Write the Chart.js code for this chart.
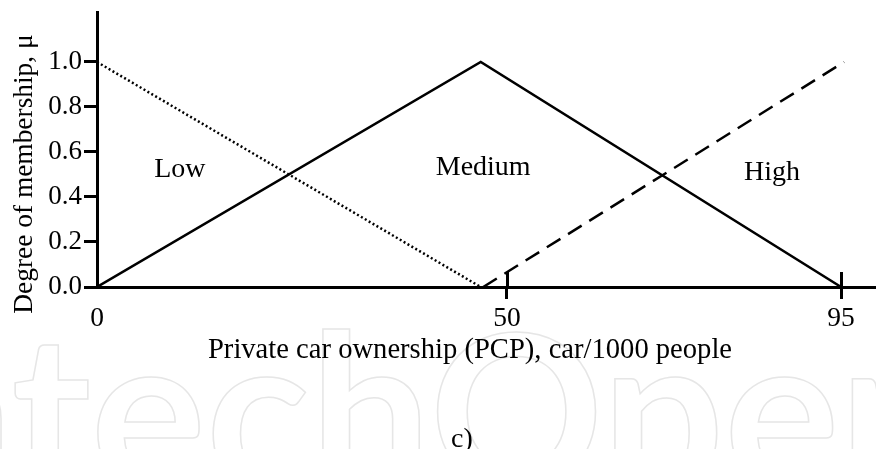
<!DOCTYPE html>
<html>
<head>
<meta charset="utf-8">
<script src="https://cdn.jsdelivr.net/npm/chart.js@4.4.1/dist/chart.umd.min.js"></script>
<style>
	html, body { margin: 0; padding: 0; background: #fff; }
	canvas { display: block; }
</style>
</head>
<body>
<canvas id="chart" width="876" height="449"></canvas>
<script>
// membership functions, x = private car ownership, y = degree of membership
const lowX = [0, 46.8];
const lowY = [1, 0];
const mediumX = [0, 46.8, 95];
const mediumY = [0, 1, 0];
const highX = [47.1, 95.4];
const highY = [0, 1];

const xTicks = [0, 50, 95];
const yTicks = [0, 0.2, 0.4, 0.6, 0.8, 1.0];

const regionNames = ["Low", "Medium", "High"];
const regionX = [10.1, 47.1, 85.7];
const regionY = [0.52, 0.53, 0.51];

const xTitle = "Private car ownership (PCP), car/1000 people";
const yTitle = "Degree of membership, μ";
const caption = "c)";

const serif = "'Liberation Serif', 'Times New Roman', serif";

// the original drawing is not to scale: 0..50 is wider than 50..95
const scaleKnots = [0, 50, 99.7];
const scaleFractions = [0, 0.5263, 1];

class PiecewiseScale extends Chart.LinearScale {
	getPixelForValue(value) {
		let i = 1;
		while (i < scaleKnots.length - 1 && value > scaleKnots[i]) {
			i++;
		}
		const t = (value - scaleKnots[i - 1]) / (scaleKnots[i] - scaleKnots[i - 1]);
		const frac = scaleFractions[i - 1] + t * (scaleFractions[i] - scaleFractions[i - 1]);
		return this.getPixelForDecimal(frac);
	}
	getValueForPixel(pixel) {
		const frac = this.getDecimalForPixel(pixel);
		let i = 1;
		while (i < scaleFractions.length - 1 && frac > scaleFractions[i]) {
			i++;
		}
		const t = (frac - scaleFractions[i - 1]) / (scaleFractions[i] - scaleFractions[i - 1]);
		return scaleKnots[i - 1] + t * (scaleKnots[i] - scaleKnots[i - 1]);
	}
}
PiecewiseScale.id = "piecewise";
PiecewiseScale.defaults = Chart.LinearScale.defaults;
Chart.register(PiecewiseScale);

function toPoints(xs, ys) {
	return xs.map((x, i) => ({ x: x, y: ys[i] }));
}

const watermark = {
	id: "watermark",
	beforeDraw(chart) {
		const ctx = chart.ctx;
		ctx.save();
		ctx.font = "bold 100px Lato, 'Open Sans', sans-serif";
		const size = 420 / ctx.measureText("tech").width * 100;
		ctx.font = "bold " + size + "px Lato, 'Open Sans', sans-serif";
		const xHeight = ctx.measureText("x").actualBoundingBoxAscent;
		const startX = 13 - ctx.measureText("In").width;
		ctx.strokeStyle = "#e6e6e6";
		ctx.lineWidth = 1.5;
		ctx.textBaseline = "alphabetic";
		ctx.strokeText("IntechOpen", startX, 378 + xHeight);
		ctx.restore();
	}
};

const decorations = {
	id: "decorations",
	afterDatasetsDraw(chart) {
		const ctx = chart.ctx;
		const xs = chart.scales.x;
		const ys = chart.scales.y;
		ctx.save();
		// tick marks rising above the x axis
		ctx.strokeStyle = "#000";
		ctx.lineWidth = 3;
		const base = ys.getPixelForValue(0);
		xTicks.filter(v => v !== 0).forEach(v => {
			const px = Math.round(xs.getPixelForValue(v)) + 0.5;
			ctx.beginPath();
			ctx.moveTo(px, base);
			ctx.lineTo(px, base - 15);
			ctx.stroke();
		});
		ctx.fillStyle = "#000";
		ctx.font = "28px " + serif;
		ctx.textAlign = "center";
		ctx.textBaseline = "middle";
		regionNames.forEach((name, i) => {
			ctx.fillText(name, xs.getPixelForValue(regionX[i]), ys.getPixelForValue(regionY[i]));
		});
		// axis titles and caption
		ctx.textBaseline = "alphabetic";
		ctx.font = "28.6px " + serif;
		ctx.fillText(xTitle, 470, 358);
		ctx.font = "28px " + serif;
		ctx.fillText(caption, 462, 447);
		ctx.translate(32, 174);
		ctx.rotate(-Math.PI / 2);
		ctx.font = "27.4px " + serif;
		ctx.fillText(yTitle, 0, 0);
		ctx.restore();
	}
};

const context = document.getElementById("chart").getContext("2d");
const chart = new Chart(context, {
	type: "scatter",
	data: {
		datasets: [
			{
				label: "Low",
				data: toPoints(lowX, lowY),
				showLine: true,
				borderColor: "#000",
				borderWidth: 2.5,
				borderDash: [2, 2.5],
				pointRadius: 0
			},
			{
				label: "Medium",
				data: toPoints(mediumX, mediumY),
				showLine: true,
				borderColor: "#000",
				borderWidth: 2.5,
				pointRadius: 0
			},
			{
				label: "High",
				data: toPoints(highX, highY),
				showLine: true,
				borderColor: "#000",
				borderWidth: 2.5,
				borderDash: [16, 9],
				pointRadius: 0
			}
		]
	},
	options: {
		responsive: false,
		animation: false,
		devicePixelRatio: 1,
		layout: {
			padding: { top: 12, right: 0, bottom: 0, left: 0 }
		},
		plugins: {
			legend: { display: false },
			tooltip: { enabled: false }
		},
		scales: {
			x: {
				type: "piecewise",
				min: 0,
				max: 99.7,
				afterBuildTicks: scale => {
					scale.ticks = xTicks.map(v => ({ value: v }));
				},
				afterFit: scale => {
					scale.height = 162;
					scale.paddingLeft = 0;
					scale.paddingRight = 0;
				},
				ticks: {
					callback: v => String(v),
					color: "#000",
					font: { family: serif, size: 27.5 },
					padding: 3,
					maxRotation: 0,
					autoSkip: false
				},
				grid: {
					drawOnChartArea: false,
					tickLength: 12,
					tickWidth: 3,
					tickColor: c => (c.tick && c.tick.value === 0) ? "rgba(0,0,0,0)" : "#000"
				},
				border: { color: "#000", width: 3 }
			},
			y: {
				type: "linear",
				min: 0,
				max: 1.222,
				afterBuildTicks: scale => {
					scale.ticks = yTicks.map(v => ({ value: v }));
				},
				afterFit: scale => {
					scale.width = 97;
					scale.paddingTop = 0;
					scale.paddingBottom = 0;
				},
				ticks: {
					callback: v => v.toFixed(1),
					color: "#000",
					font: { family: serif, size: 27 },
					padding: 2
				},
				grid: {
					drawOnChartArea: false,
					tickLength: 13,
					tickWidth: 3,
					tickColor: "#000"
				},
				border: { color: "#000", width: 3 }
			}
		}
	},
	plugins: [watermark, decorations]
});
</script>
</body>
</html>
